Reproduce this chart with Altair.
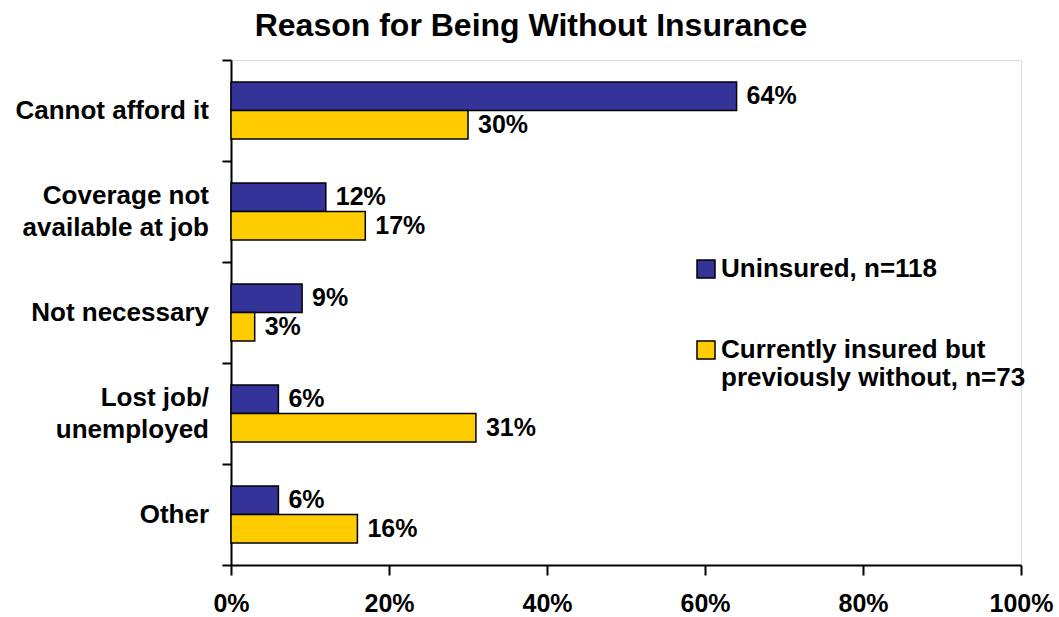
import altair as alt
import pandas as pd

categories = ["Cannot afford it", "Coverage not|available at job", "Not necessary",
              "Lost job/|unemployed", "Other"]
series = ["Uninsured, n=118", "Currently insured but previously without, n=73"]
uninsured = [64, 12, 9, 6, 6]
previously_without = [30, 17, 3, 31, 16]
colors = ["#333399", "#FFCC00"]
x_ticks = [0, 20, 40, 60, 80, 100]

rows = []
for i, c in enumerate(categories):
    rows.append({"category": c, "series": series[0], "value": uninsured[i]})
    rows.append({"category": c, "series": series[1], "value": previously_without[i]})
df = pd.DataFrame(rows)
df["label"] = df["value"].astype(str) + "%"

cat_df = pd.DataFrame({"category": categories,
                       "lines": [c.count("|") + 1 for c in categories]})

FONT = "Liberation Sans"

y_enc = alt.Y(
    "category:N", sort=categories,
    scale=alt.Scale(paddingInner=0, paddingOuter=0),
    axis=alt.Axis(
        title=None, tickBand="extent", labels=False,
        tickSize=9, tickColor="black", tickWidth=2,
        domainColor="black", domainWidth=2,
    ),
)
x_enc = alt.X(
    "value:Q", scale=alt.Scale(domain=[0, 100]),
    axis=alt.Axis(
        title=None, values=x_ticks, labelExpr="datum.value + '%'", grid=False,
        labelFont=FONT, labelFontSize=25, labelFontWeight="bold", labelColor="black",
        labelPadding=16, tickSize=10, tickColor="black", tickWidth=2,
        domainColor="black", domainWidth=2, labelFlush=False,
    ),
)
yoff = alt.YOffset("series:N", sort=series,
                   scale=alt.Scale(paddingInner=0, paddingOuter=0.77))

legend = alt.Legend(
    orient="none", legendX=462, legendY=196, padding=0,
    symbolType="square", symbolSize=324, symbolStrokeColor="black",
    symbolStrokeWidth=1.5, symbolOpacity=1,
    labelFont=FONT, labelFontSize=26, labelFontWeight="bold", labelColor="black",
    labelLimit=500, labelOffset=2, rowPadding=55,
    labelExpr="datum.label == 'Uninsured, n=118' ? datum.label : ['Currently insured but', 'previously without, n=73']",
)

bars = alt.Chart(df).mark_bar(stroke="black", strokeWidth=1.5).encode(
    x=x_enc, y=y_enc, yOffset=yoff,
    color=alt.Color("series:N", sort=series, title=None,
                    scale=alt.Scale(domain=series, range=colors), legend=legend),
)
texts = alt.Chart(df).mark_text(
    align="left", baseline="middle", dx=10, font=FONT, fontSize=25,
    fontWeight="bold", color="black",
).encode(x=x_enc, y=y_enc, yOffset=yoff, text="label:N")

# category labels drawn as text marks through the y scale (two-line ones lifted by half a line)
cat_style = dict(align="right", baseline="middle", font=FONT, fontSize=26,
                 fontWeight="bold", color="black", lineBreak="|", lineHeight=32)
cat_single = alt.Chart(cat_df).transform_filter("datum.lines == 1").mark_text(
    **cat_style).encode(y=y_enc, x=alt.value(-22), text="category:N")
cat_multi = alt.Chart(cat_df).transform_filter("datum.lines == 2").mark_text(
    dy=-16, **cat_style).encode(y=y_enc, x=alt.value(-22), text="category:N")

chart = alt.layer(bars, texts, cat_single, cat_multi).properties(
    width=790, height=505,
    title=alt.TitleParams(
        "Reason for Being Without Insurance", font=FONT, fontSize=32,
        fontWeight="bold", color="black", anchor="middle", dx=-95,
        baseline="alphabetic", offset=23, dy=32,
    ),
    autosize=alt.AutoSizeParams(type="none"),
    padding={"left": 231, "top": 60, "right": 38, "bottom": 52},
).configure_view(stroke=None).configure(background="white")

chart.save("out.html", embed_options={"renderer": "svg", "actions": False})
